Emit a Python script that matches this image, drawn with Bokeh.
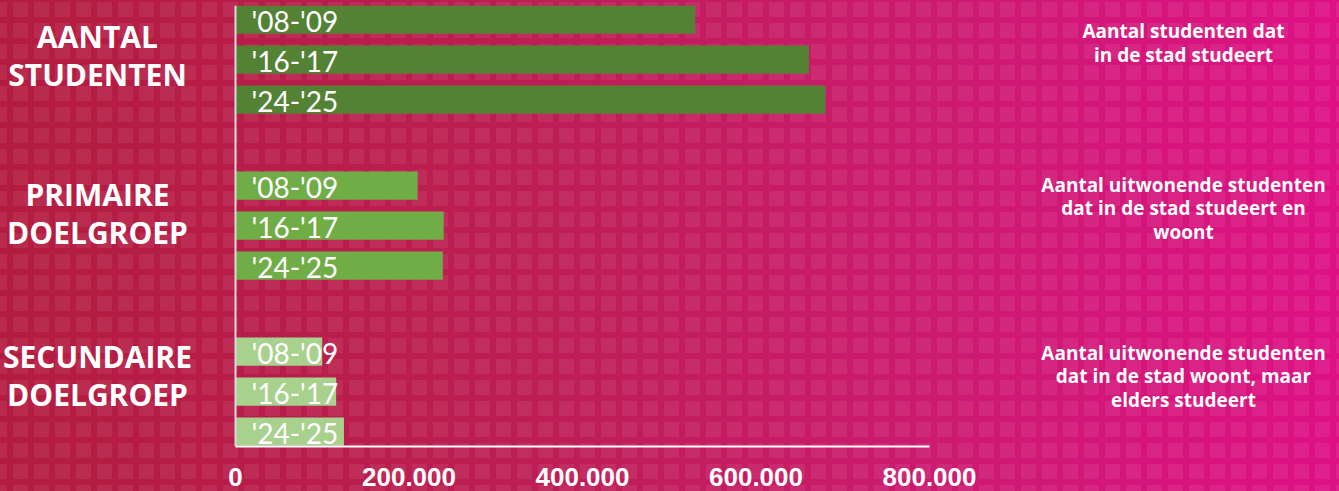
from bokeh.plotting import figure
from bokeh.models import Range1d, FixedTicker, Label, Span
from bokeh.core.properties import value
from bokeh.embed import file_html
from bokeh.resources import INLINE

# ---- data ----
group_labels = ["AANTAL\nSTUDENTEN", "PRIMAIRE\nDOELGROEP", "SECUNDAIRE\nDOELGROEP"]
descriptions = [
    "Aantal studenten dat\nin de stad studeert",
    "Aantal uitwonende studenten\ndat in de stad studeert en\nwoont",
    "Aantal uitwonende studenten\ndat in de stad woont, maar\nelders studeert",
]
years = ["'08-'09", "'16-'17", "'24-'25"]
aantal_studenten = [530000, 661000, 680000]
primaire_doelgroep = [210000, 240000, 239000]
secundaire_doelgroep = [100000, 116000, 125000]
tick_values = [0, 200000, 400000, 600000, 800000]
tick_labels = ["0", "200.000", "400.000", "600.000", "800.000"]
group_colors = ["#548235", "#70AD47", "#A9D18E"]

series = [aantal_studenten, primaire_doelgroep, secundaire_doelgroep]

# ---- layout constants (pixels) ----
W, H = 1339, 491
FL, FR, FT, FB = 235, 929, 5, 446   # zero / 800.000 positions, top / bottom of plot area
XMAX = 800000
K = XMAX / (FR - FL)                # data units per pixel
ROW = 40.0
GROUP = 166.0
FIRST = 19.2
BAR_H = 28.3


def ypix(py):
    return (py - FT) / ROW


def xpix(px):
    return (px - FL) * K


bg = ("conic-gradient(from 90deg at 6px 6px, rgba(255,255,255,0.065) 0 25%, rgba(0,0,0,0) 0 100%) 7px 17px / 21px 21px, "
      "linear-gradient(90deg, #B31C3F 0%, #BD1E54 40%, #CD1A72 72%, #DE1085 100%)")

p = figure(width=W, height=H, x_range=Range1d(xpix(0), xpix(W)), y_range=Range1d(ypix(FB), 0),
           output_backend="svg", toolbar_location=None, y_axis_location=None,
           min_border_left=0, min_border_right=0, min_border_top=FT, min_border_bottom=H - FB,
           background_fill_color=None, border_fill_color=None, outline_line_color=None,
           styles={"background": bg})

p.xgrid.visible = False
p.ygrid.visible = False

for g, vals in enumerate(series):
    ys = [ypix(FIRST + g * GROUP + i * ROW) for i in range(len(vals))]
    p.hbar(y=ys, left=0, right=vals, height=BAR_H / ROW, fill_color=group_colors[g], line_color=None)
    p.text(x=[0] * len(vals), y=ys, text=years, x_offset=16, y_offset=1,
           text_color="white", text_font=value("Lato"), text_font_size="28px",
           text_align="left", text_baseline="middle")

# vertical (category) axis line
p.add_layout(Span(location=0, dimension="height", line_color="#D9D9D9", line_width=2))

group_y_px = [55, 213, 375]
for g, lab in enumerate(group_labels):
    p.add_layout(Label(x=xpix(97), y=ypix(group_y_px[g]), text=lab, text_align="center",
                       text_baseline="middle", text_color="white", text_font="Open Sans",
                       text_font_style="bold", text_font_size="30px", text_line_height=0.905))

desc_y_px = [42.5, 208, 376]
for g, d in enumerate(descriptions):
    p.add_layout(Label(x=xpix(1183), y=ypix(desc_y_px[g]), text=d, text_align="center",
                       text_baseline="middle", text_color="white", text_font="Open Sans",
                       text_font_style="bold", text_font_size="19px", text_line_height=0.92))

xa = p.xaxis[0]
xa.bounds = (0, XMAX)
xa.ticker = FixedTicker(ticks=tick_values)
xa.major_label_overrides = {v: t for v, t in zip(tick_values, tick_labels)}
xa.axis_line_color = "white"
xa.axis_line_width = 2
xa.major_tick_line_color = None
xa.minor_tick_line_color = None
xa.major_label_text_color = "white"
xa.major_label_text_font = "Liberation Sans"
xa.major_label_text_font_style = "bold"
xa.major_label_text_font_size = "26px"
xa.major_label_standoff = 15

open("out.html", "w").write(file_html(p, INLINE))
